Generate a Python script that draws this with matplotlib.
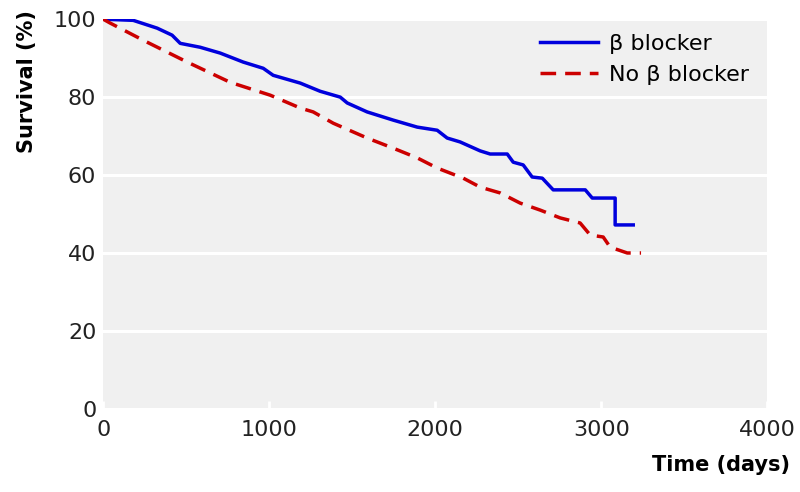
import matplotlib
matplotlib.use("Agg")
import matplotlib.pyplot as plt

plt.rcParams['font.family'] = ['DejaVu Sans']

# beta blocker group
bb_days = [0, 181, 325, 415, 464, 584, 705, 843, 964, 1024, 1187, 1307, 1428,
           1470, 1590, 1747, 1892, 2012, 2072, 2150, 2271, 2331, 2434, 2470,
           2530, 2584, 2645, 2711, 2904, 2946, 3084, 3084, 3193]
bb_surv = [100, 99.7, 97.7, 95.9, 93.8, 92.8, 91.3, 89, 87.4, 85.6, 83.6, 81.5,
           80, 78.5, 76.2, 74.1, 72.3, 71.5, 69.5, 68.5, 66.2, 65.4, 65.4, 63.3,
           62.6, 59.5, 59.2, 56.2, 56.2, 54.1, 54.1, 47.2, 47.2]

# no beta blocker group
nb_days = [0, 42, 241, 506, 765, 1006, 1187, 1265, 1386, 1590, 1747, 1892,
           2012, 2169, 2271, 2392, 2512, 2633, 2753, 2873, 2934, 3012, 3054,
           3157, 3240]
nb_surv = [100, 99, 94.6, 89, 83.8, 80.5, 77.2, 76.2, 73.3, 69.5, 66.9, 64.4,
           61.8, 59.2, 56.9, 55.4, 52.8, 51, 49, 47.7, 44.6, 44.1, 41.5, 40, 40]

x_ticks = [0, 1000, 2000, 3000, 4000]
y_ticks = [0, 20, 40, 60, 80, 100]

fig = plt.figure(figsize=(8, 4.92), dpi=100)
ax = fig.add_axes([0.129, 0.169, 0.83, 0.792])
ax.set_facecolor('#f0f0f0')

ax.plot(bb_days, bb_surv, color='#0000dd', lw=2.5, label='β blocker')
ax.plot(nb_days, nb_surv, color='#cc0000', lw=2.5, ls=(0, (4.5, 2.6)),
        label='No β blocker')

ax.set_xlim(0, 4000)
ax.set_ylim(0, 100)
ax.set_xticks(x_ticks)
ax.set_yticks(y_ticks)
ax.grid(axis='y', color='white', lw=2.2)
ax.set_axisbelow(True)
for s in ax.spines.values():
    s.set_visible(False)
ax.tick_params(axis='x', direction='in', color='white', length=6, width=2,
               labelsize=16, pad=8, labelcolor='#222222')
ax.tick_params(axis='y', length=0, labelsize=16, pad=5, labelcolor='#222222')

# axis titles sit at the top / right ends like the original
fig.text(27 / 800, 1 - 10 / 492, 'Survival (%)', fontsize=15,
         fontweight='bold', rotation=90, ha='center', va='top')
fig.text(0.988, 0.035, 'Time (days)', fontsize=15, fontweight='bold',
         ha='right', va='bottom')

ax.legend(loc='upper right', frameon=False, fontsize=16, handlelength=2.6,
          bbox_to_anchor=(1.003, 1.013), labelspacing=0.5, handletextpad=0.5)

fig.savefig('out.png', dpi=100)
